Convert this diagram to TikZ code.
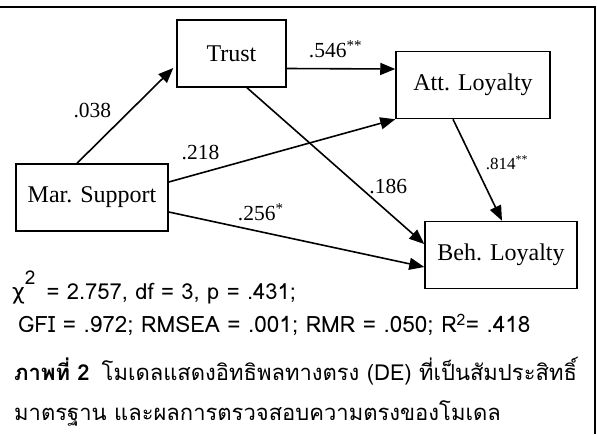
\documentclass[tikz,border=0pt]{standalone}
\usepackage{fontspec}
\setmainfont{Liberation Serif}
\newfontfamily\thaifont[Script=Thai]{Loma}
\newfontfamily\greekfont{DejaVu Sans}
\usetikzlibrary{arrows.meta, positioning}
\tikzstyle{block} = [rectangle, draw=black, line width=1.5pt, minimum height=67pt, inner sep=0pt, font=\fontsize{24}{28}\selectfont]
\tikzstyle{arrow} = [line width=1.6pt, -{Triangle[length=15pt, width=12pt]}]
\tikzstyle{coef} = [font=\fontsize{21.5}{24}\selectfont, inner sep=0pt]
\tikzstyle{stat} = [anchor=west, inner sep=0pt, font=\thaifont\fontsize{22.5}{27}\selectfont]

\begin{document}
\begin{tikzpicture}[x=1pt, y=-1pt]
  \useasboundingbox (0,0) rectangle (597,434);
  % frame
  \draw[line width=2pt] (0,7) -- (595,7) -- (595,434);

  \node[block, minimum width=109pt] (trust) at (231.5,53.5) {Trust};
  \node[block, minimum width=154pt] (attloy) at (473,85) {Att. Loyalty};
  \node[block, minimum width=152pt] (marsup) at (92,197.5) {Mar. Support};
  \node[block, minimum width=152pt] (behloy) at (501,255) {Beh. Loyalty};

  \draw[arrow] ([xshift=-15pt]marsup.north) -- node[coef, pos=0.55, left=18pt] (c1) {.038} ([xshift=-3pt, yshift=-14.5pt]trust.west);
  \draw[arrow] ([yshift=-15pt]trust.east) -- node[coef, pos=0.45, above=10pt] (c2) {.546\textsuperscript{**}} ([yshift=16pt]attloy.west);
  \draw[arrow] ([yshift=15.5pt]marsup.east) -- node[coef, pos=0.14, above=13pt] (c3) {.218} (attloy.south west);
  \draw[arrow] ([xshift=15.5pt]trust.south) -- node[coef, pos=0.63, right=10pt] (c4) {.186} ([yshift=11pt]behloy.west);
  \draw[arrow] ([xshift=-20pt]attloy.south) -- node[coef, pos=0.43, right=11pt, font=\fontsize{17}{20}\selectfont] (c5) {.814\textsuperscript{**}} ([xshift=1pt]behloy.north);
  \draw[arrow] ([yshift=-14.5pt]marsup.east) -- node[coef, pos=0.36, above=10pt] (c6) {.256\textsuperscript{*}} ([yshift=-12pt]behloy.west);

  % fit statistics and caption
  \node[stat, font=\thaifont\fontsize{22}{26}\selectfont] (chi) at (12,287) {{\greekfont χ}\raisebox{15pt}{\fontsize{19}{20}\selectfont 2}\ \,= 2.757, df = 3, p = .431;};
  \node[stat] (gfi) at (18,325) {GFI = .972; RMSEA = .001; RMR = .050; R\textsuperscript{2}= .418};
  \node[stat, font=\thaifont\fontsize{22}{26}\selectfont] (cap1) at (14,371) {\textbf{ภาพที่ 2}\hspace{12pt}โมเดลแสดงอิทธิพลทางตรง (DE) ที่เป็นสัมประสิทธิ์};
  \node[stat, font=\thaifont\fontsize{22}{26}\selectfont] (cap2) at (14,413) {มาตรฐาน และผลการตรวจสอบความตรงของโมเดล};
\end{tikzpicture}
\end{document}
